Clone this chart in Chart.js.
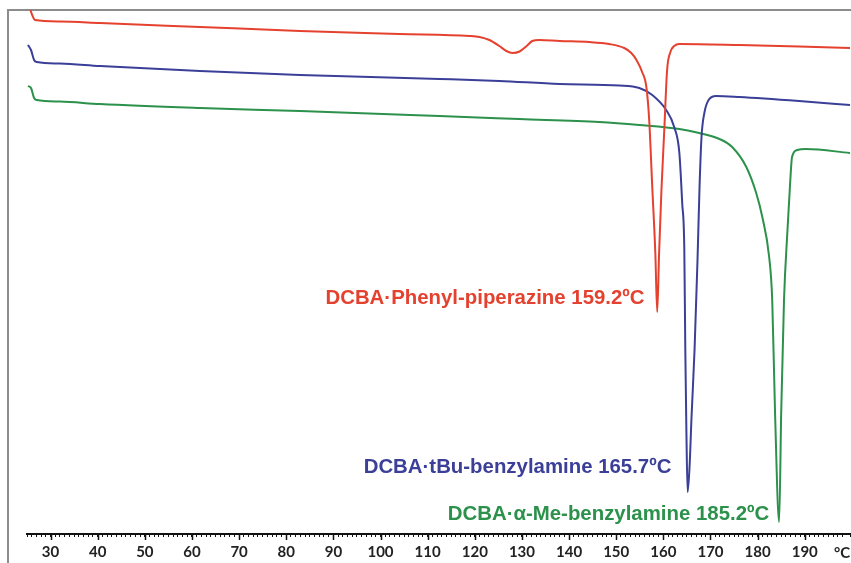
<!DOCTYPE html>
<html>
<head>
<meta charset="utf-8">
<script src="https://cdn.jsdelivr.net/npm/chart.js@4"></script>
<style>
  html, body { margin: 0; padding: 0; background: #fff; overflow: hidden; }
  #wrap { width: 856px; height: 563px; position: relative; }
</style>
</head>
<body>
<div id="wrap"><canvas id="dsc"></canvas></div>
<script>
// temperatures (°C) and heat flow (arb. units)
var red_t = [25.6, 26.1, 26.7, 32.0, 40.5, 61.7, 82.9, 104.0, 118.9, 121.0, 123.1, 125.2, 126.7, 128.0, 129.5, 131.0, 132.2, 133.7, 138.0, 144.3, 148.5, 151.7, 153.2, 154.3, 155.5, 156.4, 157.0, 157.65, 158.3, 158.7, 159.1, 159.6, 160.2, 160.8, 161.5, 162.3, 163.4, 176.1, 188.8, 199.6];
var red_y = [52.6, 51.9, 51.4, 51.25, 51.1, 50.7, 50.3, 50.0, 49.8, 49.7, 49.4, 48.8, 48.3, 48.1, 48.25, 48.8, 49.3, 49.4, 49.3, 49.2, 49.0, 48.6, 48.1, 47.4, 46.2, 44.7, 41.4, 34.7, 28.1, 22.2, 28.1, 34.4, 40.4, 46.4, 48.2, 48.8, 49.0, 48.9, 48.75, 48.6];

var blue_t = [25.2, 25.85, 26.5, 27.1, 32.0, 40.5, 61.7, 82.9, 112.5, 125.2, 138.0, 150.7, 154.9, 157.65, 160.6, 162.3, 163.4, 164.0, 164.45, 164.66, 164.9, 165.15, 165.56, 165.98, 166.62, 167.25, 167.68, 168.1, 168.7, 169.6, 171.2, 176.1, 188.8, 199.6];
var blue_y = [48.9, 48.4, 47.4, 47.2, 47.05, 46.8, 46.3, 45.9, 45.5, 45.3, 45.0, 44.85, 44.6, 43.9, 42.4, 40.7, 38.1, 33.1, 28.4, 18.4, 10.0, 4.2, 6.7, 11.7, 18.4, 27.4, 34.7, 39.7, 42.1, 43.4, 43.8, 43.7, 43.3, 42.9];

var green_t = [25.2, 25.85, 26.5, 27.1, 32.0, 40.5, 61.7, 82.9, 112.5, 129.5, 146.4, 154.9, 163.4, 167.6, 171.9, 174.6, 177.6, 179.7, 181.0, 182.45, 183.1, 183.7, 184.57, 185.0, 185.6, 186.3, 186.9, 187.3, 188.4, 190.3, 199.6];
var green_y = [44.8, 44.6, 43.6, 43.4, 43.25, 43.0, 42.6, 42.3, 41.8, 41.5, 41.2, 40.9, 40.5, 40.1, 39.5, 38.7, 36.7, 34.1, 31.7, 27.7, 23.4, 12.1, 1.2, 12.1, 23.4, 30.1, 35.1, 37.7, 38.4, 38.5, 38.1];

var series_names = ["DCBA·Phenyl-piperazine 159.2ºC", "DCBA·tBu-benzylamine 165.7ºC", "DCBA·α-Me-benzylamine 185.2ºC"];
var series_colors = ["#e5412f", "#3b3f98", "#2b914b"];

function pairs(t, y){ // zip temperatures and values into points
  var out = [];
  for(var i=0;i<t.length;i++){
    out.push({x:t[i], y:y[i]});
  }
  return out;
}

var all_t = [red_t, blue_t, green_t];
var all_y = [red_y, blue_y, green_y];
var datasets = [];
for(var i=0;i<3;i++){
  datasets.push({
    label: series_names[i],
    data: pairs(all_t[i], all_y[i]),
    borderColor: series_colors[i],
    borderWidth: 2,
    pointRadius: 0,
    cubicInterpolationMode: 'monotone',
    fill: false
  });
}

// where each curve label sits (right edge, in data units)
var label_anchor = [{x:156.0, y:23.6}, {x:161.7, y:6.7}, {x:182.45, y:2.0}];

var extras = {
  id: 'extras',
  beforeDraw: function(chart){ // grey frame on top and left
    var ctx = chart.ctx;
    ctx.save();
    ctx.strokeStyle = "#8c8c8c";
    ctx.lineWidth = 2;
    ctx.beginPath();
    ctx.moveTo(8, 563);
    ctx.lineTo(8, 10);
    ctx.lineTo(856, 10);
    ctx.stroke();
    ctx.restore();
  },
  afterDraw: function(chart){
    var ctx = chart.ctx;
    var xs = chart.scales.x;
    var ys = chart.scales.y;
    var bottom = chart.chartArea.bottom;
    ctx.save();
    // longer ticks at every ten degrees
    ctx.strokeStyle = "#111";
    ctx.lineWidth = 1.5;
    for(var t=30;t<=190;t+=10){
      var px = Math.round(xs.getPixelForValue(t)) + 0.5;
      ctx.beginPath();
      ctx.moveTo(px, bottom);
      ctx.lineTo(px, bottom + 6);
      ctx.stroke();
    }
    ctx.fillStyle = "#222";
    ctx.font = "bold 15px Lato";
    ctx.textBaseline = "middle";
    ctx.textAlign = "center";
    ctx.fillText("°C", 842, 553);
    // curve labels
    ctx.font = "bold 20.4px 'Liberation Sans'";
    ctx.textAlign = "right";
    for(var i=0;i<label_anchor.length;i++){
      ctx.fillStyle = series_colors[i];
      ctx.fillText(series_names[i], xs.getPixelForValue(label_anchor[i].x), ys.getPixelForValue(label_anchor[i].y));
    }
    ctx.restore();
  }
};

var ctx = document.getElementById('dsc').getContext('2d');
var my_chart = new Chart(ctx, {
  type: 'line',
  data: { datasets: datasets },
  options: {
    responsive: true,
    maintainAspectRatio: false,
    animation: false,
    layout: { padding: { left: 27, right: 0, top: 10, bottom: 0 } },
    plugins: { legend: { display: false }, tooltip: { enabled: false } },
    scales: {
      x: {
        type: 'linear',
        min: 25,
        max: 199.6,
        afterFit: function(scale){ scale.height = 29; },
        border: { display: true, color: "#111", width: 2 },
        grid: { drawOnChartArea: false, drawTicks: true, tickLength: 3, color: "#111", lineWidth: 1 },
        ticks: {
          stepSize: 1,
          autoSkip: false,
          maxRotation: 0,
          padding: 6,
          color: "#222",
          font: { family: "Lato", size: 15, weight: "bold" },
          callback: function(v){ return (v % 10 === 0 && v >= 30 && v <= 190) ? String(v) : ''; }
        }
      },
      y: {
        display: false,
        min: 0,
        max: 52.4
      }
    }
  },
  plugins: [extras]
});
</script>
</body>
</html>
